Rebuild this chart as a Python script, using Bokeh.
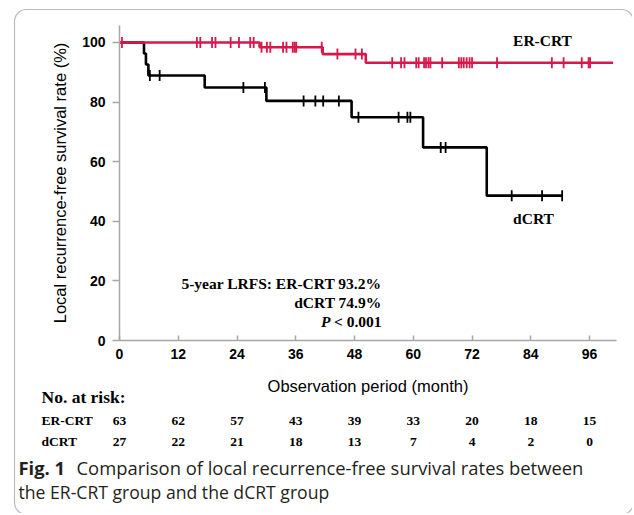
import numpy as np
from bokeh.plotting import figure
from bokeh.models import Range1d, FixedTicker, BoxAnnotation
from bokeh.core.properties import value
from bokeh.embed import file_html
from bokeh.resources import INLINE

# ---------------- data ----------------
month_ticks = [0, 12, 24, 36, 48, 60, 72, 84, 96]
rate_ticks = [0, 20, 40, 60, 80, 100]

er_times = [0, 28.6, 41.5, 50.3]
er_surv = [100, 98.4, 96.1, 93.2]
er_end = 100.8
er_censor = [0.5, 15.8, 16.5, 18.9, 19.6, 22.7, 24.4, 26.7, 27.4,
             29.0, 30.1, 30.8, 33.4, 34.1, 35.4, 35.8, 36.1, 41.3,
             44.5, 48.2, 49.5,
             55.7, 57.5, 58.2, 60.6, 61.1, 62.2, 62.6, 63.1, 63.5, 65.9,
             69.3, 69.8, 70.3, 70.9, 71.5, 72.0, 77.1, 88.3, 90.7, 94.4, 95.8, 96.1]

dcrt_times = [0, 5.0, 5.4, 5.9, 17.4, 30.0, 47.4, 62.0, 75.0]
dcrt_surv = [100, 96.3, 92.6, 88.9, 84.9, 80.4, 74.9, 64.8, 48.6]
dcrt_end = 90.4
dcrt_censor = [6.2, 8.2, 25.3, 29.7, 37.6, 40.0, 41.6, 44.8,
               48.8, 57.0, 58.8, 59.4, 65.6, 66.6, 80.1, 86.3, 90.4]

risk_groups = ["ER-CRT", "dCRT"]
risk_er = [63, 62, 57, 43, 39, 33, 20, 18, 15]
risk_dcrt = [27, 22, 21, 18, 13, 7, 4, 2, 0]

RED = "#d7184b"
BLACK = "#000000"
AXIS = "#a6a6a6"
CAPTION_COLOR = "#231f20"
SERIF = "Liberation Serif"
SANS = "Liberation Sans"
CAP = "Open Sans"

# ---------------- geometry (canvas pixels) ----------------
W, H = 632, 513
XMAX, YMAX = 101.5, 105.7
FRAME_L, FRAME_R, FRAME_T, FRAME_B = 119, 616, 25, 340
X_SCALE = (FRAME_R - FRAME_L) / XMAX
Y_SCALE = (FRAME_B - FRAME_T) / YMAX
def dx(px):
    return (px - FRAME_L) / X_SCALE
def dy(py):
    return (FRAME_B - py) / Y_SCALE

p = figure(width=W, height=H, x_range=Range1d(dx(0), dx(W)), y_range=Range1d(dy(H), dy(0)),
           output_backend="svg", toolbar_location=None, min_border=0)
p.outline_line_color = None
p.grid.visible = False
p.background_fill_color = "white"
p.border_fill_color = "white"

for ax in (p.xaxis[0], p.yaxis[0]):
    ax.fixed_location = 0
    ax.axis_line_color = AXIS
    ax.axis_line_width = 1.5
    ax.major_tick_line_color = AXIS
    ax.major_tick_line_width = 1.5
    ax.minor_tick_line_color = None
    ax.major_label_text_font = SANS
    ax.major_label_text_font_style = "bold"
    ax.major_label_text_font_size = "14px"
    ax.major_label_text_color = "black"
    ax.axis_label_text_font = SANS
    ax.axis_label_text_font_style = "normal"
    ax.axis_label_text_font_size = "16.5px"
    ax.axis_label_text_color = "black"

p.xaxis.ticker = FixedTicker(ticks=month_ticks)
p.yaxis.ticker = FixedTicker(ticks=rate_ticks)
p.xaxis.bounds = (0, XMAX)
p.yaxis.bounds = (0, YMAX)
p.xaxis.major_tick_in = 5
p.xaxis.major_tick_out = 0
p.xaxis.major_label_standoff = 8
p.xaxis.axis_label = "Observation period (month)"
p.xaxis.axis_label_standoff = 15
p.yaxis.major_tick_in = 0
p.yaxis.major_tick_out = 7
p.yaxis.major_label_standoff = 7
p.yaxis.axis_label = "Local recurrence-free survival rate (%)"
p.yaxis.axis_label_standoff = 10

# ---------------- curves ----------------
def step_xy(times, surv, end):
    return list(times) + [end], list(surv) + [surv[-1]]

def censor_y(times, surv, cens):
    idx = np.searchsorted(np.array(times), np.array(cens), side="right") - 1
    return [surv[i] for i in idx]

xs, ys = step_xy(dcrt_times, dcrt_surv, dcrt_end)
p.step(xs, ys, mode="after", line_color=BLACK, line_width=2.6)
p.scatter(dcrt_censor, censor_y(dcrt_times, dcrt_surv, dcrt_censor), marker="dash",
          angle=np.pi / 2, size=11, line_color=BLACK, line_width=1.8)

xs, ys = step_xy(er_times, er_surv, er_end)
p.step(xs, ys, mode="after", line_color=RED, line_width=2.6)
p.scatter(er_censor, censor_y(er_times, er_surv, er_censor), marker="dash",
          angle=np.pi / 2, size=11, line_color=RED, line_width=1.8)

# ---------------- texts ----------------
def txt(px, py, text, font=SERIF, size="15.5px", style="bold", align="left",
        color="black"):
    p.text(x=[dx(px)], y=[dy(py)], text=[text], text_font=value(font),
           text_font_size=size, text_font_style=style, text_align=align,
           text_baseline="middle", text_color=color)

txt(542, 40, risk_groups[0], align="center")
txt(533, 218, risk_groups[1], align="center")
txt(381, 283, "5-year LRFS: ER-CRT 93.2%", align="right")
txt(381, 302, "dCRT 74.9%", align="right")
txt(381, 321, "< 0.001", align="right")
txt(330, 321, "P", style="bold italic", align="right")

# risk table
txt(41, 396, "No. at risk:", size="17.5px")
row_y = [420, 441]
for ry, g, counts in zip(row_y, risk_groups, [risk_er, risk_dcrt]):
    txt(41, ry, g, size="13.5px")
    p.text(x=month_ticks, y=[dy(ry)] * len(month_ticks), text=[str(c) for c in counts],
           text_font=value(SERIF), text_font_size="13.5px", text_font_style="bold",
           text_align="center", text_baseline="middle", text_color="black")

# caption
txt(18, 467, "Fig. 1", font=CAP, size="18.4px", style="bold", color=CAPTION_COLOR)
txt(76, 467, "Comparison of local recurrence-free survival rates between",
    font=CAP, size="18.4px", style="normal", color=CAPTION_COLOR)
txt(18, 491, "the ER-CRT group and the dCRT group",
    font=CAP, size="17.6px", style="normal", color=CAPTION_COLOR)

# rounded outer frame
p.add_layout(BoxAnnotation(left=dx(14), right=dx(633), top=dy(9), bottom=dy(514),
                           fill_alpha=0, line_color="#222222", line_width=1.2,
                           border_radius=12))

open("out.html", "w").write(file_html(p, INLINE))
